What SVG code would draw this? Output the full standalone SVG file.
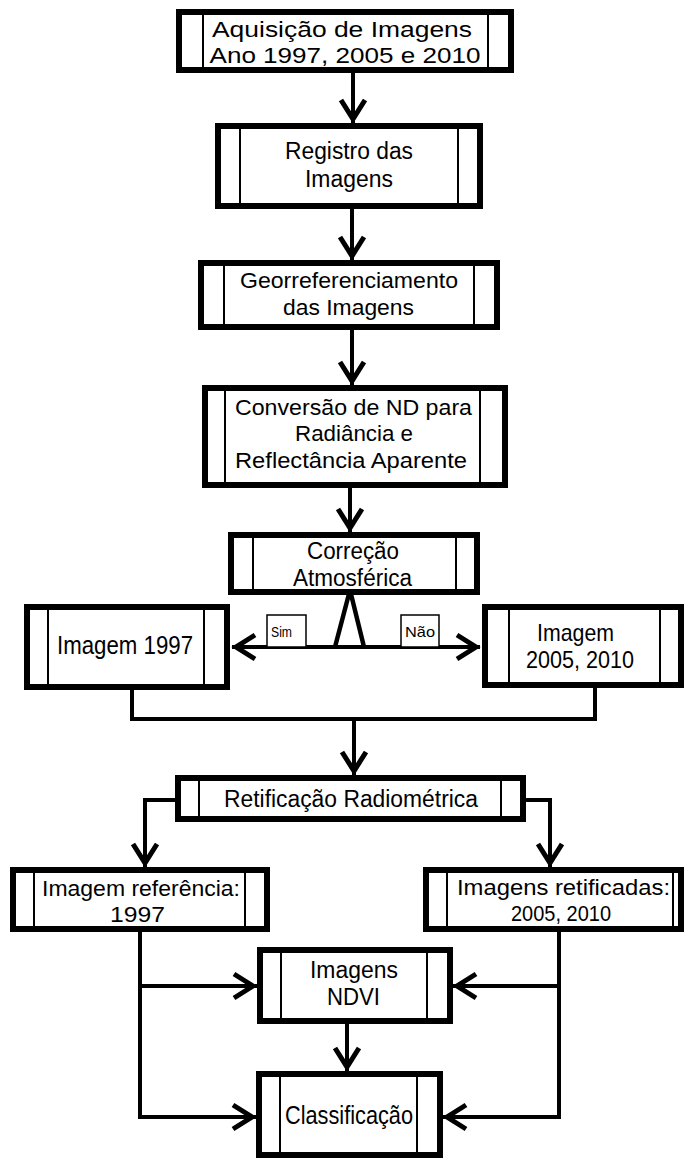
<svg xmlns="http://www.w3.org/2000/svg" width="686" height="1159" viewBox="0 0 686 1159">
<style>
.box{fill:#fff;stroke:#000;stroke-width:6}
.in{stroke:#000;stroke-width:2}
.t{font-family:"Liberation Sans",Arial,sans-serif;font-size:22px;fill:#000;text-anchor:middle}
.f23{font-size:23px}
.f24{font-size:24px}
.f25{font-size:25px}
.f26{font-size:26px}
.s{font-family:"Liberation Sans",Arial,sans-serif;font-size:15px;fill:#000;text-anchor:middle}
.c{fill:none;stroke:#000;stroke-width:4}
.lab{fill:#fff;stroke:#000;stroke-width:1.5}
</style>
<defs>
<marker id="ah" markerUnits="userSpaceOnUse" markerWidth="40" markerHeight="40" viewBox="-25 -20 40 40" refX="4" refY="0" orient="auto-start-reverse" overflow="visible">
<path d="M-19,-12 L0,0 L-19,12" fill="none" stroke="#000" stroke-width="5"/>
</marker>
</defs>
<rect width="686" height="1159" fill="#fff"/>

<g id="connectors">
<line class="c" x1="353" y1="73" x2="353" y2="123" marker-end="url(#ah)"/>
<line class="c" x1="352" y1="209" x2="352" y2="260" marker-end="url(#ah)"/>
<line class="c" x1="352" y1="330" x2="352" y2="385" marker-end="url(#ah)"/>
<line class="c" x1="350" y1="478" x2="350" y2="532" marker-end="url(#ah)"/>
<polyline points="335,647 350,590 364,647" fill="none" stroke="#000" stroke-width="4.5"/>
<line class="c" x1="232" y1="647" x2="480" y2="647" marker-start="url(#ah)" marker-end="url(#ah)"/>
<polyline class="c" points="132,680 132,719 595,719 595,680"/>
<line class="c" x1="354" y1="719" x2="354" y2="775" marker-end="url(#ah)"/>
<polyline class="c" points="175,800 145,800 145,867" marker-end="url(#ah)"/>
<polyline class="c" points="526,800 550,800 550,867" marker-end="url(#ah)"/>
<line class="c" x1="140" y1="932" x2="140" y2="1119"/>
<line class="c" x1="138" y1="986" x2="257" y2="986" marker-end="url(#ah)"/>
<line class="c" x1="138" y1="1117" x2="256" y2="1117" marker-end="url(#ah)"/>
<line class="c" x1="559" y1="932" x2="559" y2="1119"/>
<line class="c" x1="561" y1="986" x2="453" y2="986" marker-end="url(#ah)"/>
<line class="c" x1="561" y1="1117" x2="443" y2="1117" marker-end="url(#ah)"/>
<line class="c" x1="347" y1="1024" x2="347" y2="1071" marker-end="url(#ah)"/>
</g>

<g id="label-sim">
<rect class="lab" x="267" y="615" width="39" height="32"/>
<text class="s" x="281.5" y="637" textLength="21" lengthAdjust="spacingAndGlyphs">Sim</text>
</g>
<g id="label-nao">
<rect class="lab" x="401" y="615" width="38" height="32"/>
<text class="s" x="420" y="637" textLength="30" lengthAdjust="spacingAndGlyphs">Não</text>
</g>

<g id="n1">
<rect class="box" x="179" y="12" width="332" height="58"/>
<line class="in" x1="203" y1="12" x2="203" y2="70"/><line class="in" x1="488" y1="12" x2="488" y2="70"/>
<text class="t" x="342" y="37" textLength="260" lengthAdjust="spacingAndGlyphs">Aquisição de Imagens</text>
<text class="t" x="345" y="63" textLength="271" lengthAdjust="spacingAndGlyphs">Ano 1997, 2005 e 2010</text>
</g>

<g id="n2">
<rect class="box" x="218" y="126" width="262" height="80"/>
<line class="in" x1="240" y1="126" x2="240" y2="206"/><line class="in" x1="458" y1="126" x2="458" y2="206"/>
<text class="t f23" x="349" y="159" textLength="128" lengthAdjust="spacingAndGlyphs">Registro das</text>
<text class="t f23" x="349" y="187" textLength="88" lengthAdjust="spacingAndGlyphs">Imagens</text>
</g>

<g id="n3">
<rect class="box" x="201" y="263" width="296" height="64"/>
<line class="in" x1="224" y1="263" x2="224" y2="327"/><line class="in" x1="474" y1="263" x2="474" y2="327"/>
<text class="t" x="349" y="288" textLength="218" lengthAdjust="spacingAndGlyphs">Georreferenciamento</text>
<text class="t" x="348.5" y="315" textLength="131" lengthAdjust="spacingAndGlyphs">das Imagens</text>
</g>

<g id="n4">
<rect class="box" x="205" y="388" width="300" height="97"/>
<line class="in" x1="225" y1="388" x2="225" y2="485"/><line class="in" x1="480" y1="388" x2="480" y2="485"/>
<text class="t" x="353.5" y="415" textLength="237" lengthAdjust="spacingAndGlyphs">Conversão de ND para</text>
<text class="t" x="354" y="441" textLength="118" lengthAdjust="spacingAndGlyphs">Radiância e</text>
<text class="t" x="351" y="468" textLength="232" lengthAdjust="spacingAndGlyphs">Reflectância Aparente</text>
</g>

<g id="n5">
<rect class="box" x="231" y="535" width="246" height="57"/>
<line class="in" x1="253" y1="535" x2="253" y2="592"/><line class="in" x1="456" y1="535" x2="456" y2="592"/>
<text class="t f23" x="353" y="559" textLength="92" lengthAdjust="spacingAndGlyphs">Correção</text>
<text class="t f23" x="352.5" y="586" textLength="119" lengthAdjust="spacingAndGlyphs">Atmosférica</text>
</g>

<g id="n6">
<rect class="box" x="27" y="607" width="200" height="80"/>
<line class="in" x1="48" y1="607" x2="48" y2="687"/><line class="in" x1="204" y1="607" x2="204" y2="687"/>
<text class="t f25" x="125" y="654" textLength="136" lengthAdjust="spacingAndGlyphs">Imagem 1997</text>
</g>

<g id="n7">
<rect class="box" x="485" y="607" width="196" height="78"/>
<line class="in" x1="509" y1="607" x2="509" y2="685"/><line class="in" x1="660" y1="607" x2="660" y2="685"/>
<text class="t f24" x="575.5" y="641" textLength="77" lengthAdjust="spacingAndGlyphs">Imagem</text>
<text class="t f24" x="580" y="668" textLength="108" lengthAdjust="spacingAndGlyphs">2005, 2010</text>
</g>

<g id="n8">
<rect class="box" x="178" y="778" width="345" height="41"/>
<line class="in" x1="199" y1="778" x2="199" y2="819"/><line class="in" x1="501" y1="778" x2="501" y2="819"/>
<text class="t f23" x="351" y="807" textLength="254" lengthAdjust="spacingAndGlyphs">Retificação Radiométrica</text>
</g>

<g id="n9">
<rect class="box" x="13" y="870" width="254" height="59"/>
<line class="in" x1="34" y1="870" x2="34" y2="929"/><line class="in" x1="245" y1="870" x2="245" y2="929"/>
<text class="t" x="141" y="896" textLength="198" lengthAdjust="spacingAndGlyphs">Imagem referência:</text>
<text class="t" x="137.5" y="922" textLength="55" lengthAdjust="spacingAndGlyphs">1997</text>
</g>

<g id="n10">
<rect class="box" x="426" y="870" width="255" height="59"/>
<line class="in" x1="447" y1="870" x2="447" y2="929"/><line class="in" x1="673" y1="870" x2="673" y2="929"/>
<text class="t" x="563.5" y="895" textLength="213" lengthAdjust="spacingAndGlyphs">Imagens retificadas:</text>
<text class="t" x="561" y="921" textLength="100" lengthAdjust="spacingAndGlyphs">2005, 2010</text>
</g>

<g id="n11">
<rect class="box" x="260" y="950" width="190" height="71"/>
<line class="in" x1="281" y1="950" x2="281" y2="1021"/><line class="in" x1="427" y1="950" x2="427" y2="1021"/>
<text class="t f23" x="354" y="978" textLength="88" lengthAdjust="spacingAndGlyphs">Imagens</text>
<text class="t f23" x="353.5" y="1005" textLength="53" lengthAdjust="spacingAndGlyphs">NDVI</text>
</g>

<g id="n12">
<rect class="box" x="259" y="1074" width="181" height="81"/>
<line class="in" x1="280" y1="1074" x2="280" y2="1155"/><line class="in" x1="417" y1="1074" x2="417" y2="1155"/>
<text class="t f26" x="349" y="1124" textLength="128" lengthAdjust="spacingAndGlyphs">Classificação</text>
</g>
</svg>
